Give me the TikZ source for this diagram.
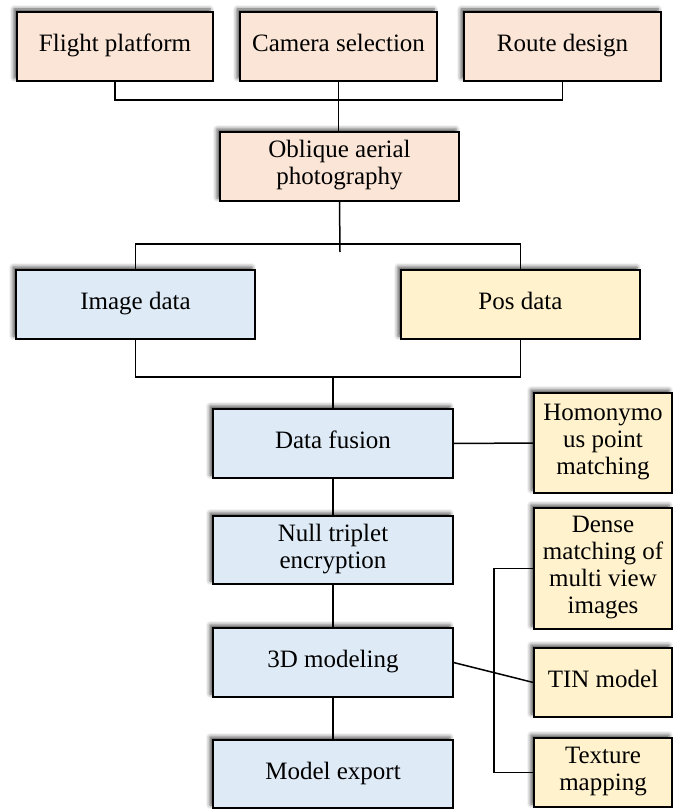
\documentclass[tikz,border=0pt]{standalone}
\usepackage{fontspec}
\setmainfont{Liberation Serif}
\usetikzlibrary{shadows,shadows.blur,fadings}
\definecolor{peach}{HTML}{FBE5D6}
\definecolor{paleblue}{HTML}{DEEAF6}
\definecolor{paleyellow}{HTML}{FFF2CC}
\tikzset{
  boxbase/.style={draw=black, line width=1.2pt, rectangle, inner sep=0pt, align=center,
    font=\fontsize{25}{27}\selectfont,
    execute at begin node=\strut, execute at end node=\strut,
    blur shadow={shadow xshift=-3pt, shadow yshift=3pt, shadow blur radius=4pt, shadow opacity=70}},
  pbox/.style={boxbase, fill=peach},
  bbox/.style={boxbase, fill=paleblue},
  ybox/.style={boxbase, fill=paleyellow},
  conn/.style={draw=black, line width=1.5pt}
}
\begin{document}
\begin{tikzpicture}[x=1pt,y=-1pt]
\useasboundingbox (0,0) rectangle (673,810);
% top row
\node[pbox, minimum width=196pt, minimum height=69pt] (fp) at (115,46.5) {Flight platform};
\node[pbox, minimum width=197pt, minimum height=69pt] (cs) at (338.5,46.5) {Camera selection};
\node[pbox, minimum width=197pt, minimum height=69pt] (rd) at (562.5,46.5) {Route design};
\node[pbox, minimum width=239pt, minimum height=69pt] (oap) at (339.5,166.5) {Oblique aerial\\photography};
% data row
\node[bbox, minimum width=239pt, minimum height=69pt] (id) at (135.5,304.5) {Image data};
\node[ybox, minimum width=239pt, minimum height=69pt] (pd) at (520.5,304.5) {Pos data};
% main column
\node[bbox, minimum width=240pt, minimum height=69pt] (df) at (333,443.5) {Data fusion};
\node[bbox, minimum width=240pt, minimum height=68pt] (nte) at (333,550) {Null triplet\\encryption};
\node[bbox, minimum width=240pt, minimum height=69pt] (m3d) at (333,662.5) {3D modeling};
\node[bbox, minimum width=240pt, minimum height=68pt] (me) at (333,774) {Model export};
% right column
\node[ybox, minimum width=138pt, minimum height=100pt] (hpm) at (603,443) {Homonymo\\us point\\matching};
\node[ybox, minimum width=138pt, minimum height=121pt] (dm) at (603,568.5) {Dense\\matching of\\multi view\\images};
\node[ybox, minimum width=138pt, minimum height=69pt] (tin) at (603,682.5) {TIN model};
\node[ybox, minimum width=138pt, minimum height=69pt] (tm) at (603,772.5) {Texture\\mapping};
% connectors
\coordinate (topbar) at (0,100);
\draw[conn] (fp.south) |- (topbar -| cs.south) -| (rd.south);
\draw[conn] (cs.south) -- (cs.south |- oap.north);
\coordinate (midbar) at (0,244);
\coordinate (oapend) at (340,252);
\draw[conn] (oap.south) -- (oapend);
\draw[conn] (id.north) |- (midbar -| oap.south) -| (pd.north);
\coordinate (lowbar) at (333,377);
\draw[conn] (id.south) |- (lowbar) -| (pd.south);
\draw[conn] (lowbar) -- (df.north);
\draw[conn] (df.east) -- (hpm.west);
\draw[conn] (df.south) -- (nte.north);
\draw[conn] (nte.south) -- (m3d.north);
\draw[conn] (m3d.south) -- (me.north);
\draw[conn] (m3d.east) -- (tin.west);
\coordinate (rbar) at (494,0);
\draw[conn] (dm.west) -| (rbar |- tm.west) -- (tm.west);
\end{tikzpicture}
\end{document}
